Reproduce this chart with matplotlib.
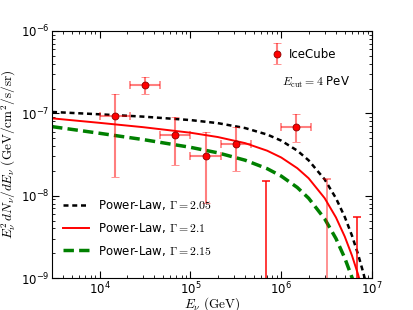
import numpy as np
import matplotlib
matplotlib.use('Agg')
import matplotlib.pyplot as plt
from matplotlib.legend_handler import HandlerErrorbar

plt.rcParams['mathtext.fontset'] = 'cm'
plt.rcParams['font.family'] = ['DejaVu Sans']

# IceCube points (GeV, GeV/cm2/s/sr)
E_data = [1.47e4, 3.16e4, 6.8e4, 1.47e5, 3.16e5, 1.47e6]
flux_data = [9.2e-8, 2.19e-7, 5.46e-8, 3.03e-8, 4.2e-8, 6.8e-8]
flux_hi = [1.7e-7, 2.8e-7, 9.1e-8, 5.9e-8, 6.9e-8, 9.7e-8]
flux_lo = [1.7e-8, 1.7e-7, 2.35e-8, 8.1e-9, 2.0e-8, 4.45e-8]
E_lo = [1.0e4, 2.15e4, 4.6e4, 1.0e5, 2.15e5, 1.0e6]
E_hi = [2.15e4, 4.6e4, 1.0e5, 2.15e5, 4.6e5, 2.15e6]

# bins with only an upper edge
E_ul = [6.8e5, 3.16e6, 6.8e6]
flux_ul = [1.5e-8, 1.6e-8, 5.5e-9]
ul_alpha = [0.9, 0.5, 0.9]

# model curves
E_model = [3e3, 1e4, 3e4, 1e5, 2e5, 4e5, 7e5, 1e6, 1.5e6, 2e6, 3e6,
           4e6, 5e6, 6e6, 7e6, 8e6, 9e6]
flux_205 = [1.04e-7, 9.74e-8, 9.13e-8, 8.29e-8, 7.61e-8, 6.63e-8, 5.53e-8,
            4.66e-8, 3.53e-8, 2.69e-8, 1.58e-8, 9.33e-9, 5.53e-9, 3.28e-9,
            1.95e-9, 1.16e-9, 6.9e-10]
flux_21 = [8.7e-8, 7.67e-8, 6.80e-8, 5.82e-8, 5.16e-8, 4.35e-8, 3.52e-8,
           2.91e-8, 2.16e-8, 1.63e-8, 9.36e-9, 5.45e-9, 3.19e-9, 1.88e-9,
           1.11e-9, 6.5e-10, 3.9e-10]
flux_215 = [6.9e-8, 5.73e-8, 4.81e-8, 3.87e-8, 3.32e-8, 2.70e-8, 2.13e-8,
            1.73e-8, 1.26e-8, 9.33e-9, 5.26e-9, 3.02e-9, 1.75e-9, 1.02e-9,
            6.0e-10, 3.5e-10, 2.1e-10]

fig = plt.figure(figsize=(4.13, 3.10), dpi=100)
ax = fig.add_axes([0.126, 0.103, 0.775, 0.797])

l1, = ax.plot(E_model, flux_205, color='black', lw=1.8, ls=(0, (2, 1.5)),
              label=r'Power-Law, $\Gamma = 2.05$')
l2, = ax.plot(E_model, flux_21, color='red', lw=1.4,
              label=r'Power-Law, $\Gamma = 2.1$')
l3, = ax.plot(E_model, flux_215, color='green', lw=2.5, ls=(0, (3, 1.5)),
              label=r'Power-Law, $\Gamma = 2.15$')

E = np.array(E_data)
f = np.array(flux_data)
yerr = [f - np.array(flux_lo), np.array(flux_hi) - f]
xerr = [E - np.array(E_lo), np.array(E_hi) - E]

ax.errorbar(E, f, xerr=xerr, fmt='none', ecolor='red', alpha=0.5,
            elinewidth=1.5, capsize=3, capthick=1.2)
ice = ax.errorbar(E, f, yerr=yerr, fmt='o', color='red', mec='darkred',
                  ms=5, mew=0.6, ecolor=(1, 0, 0, 0.5), elinewidth=1.5,
                  capsize=3, capthick=1.2, label='IceCube')

for e, top, a in zip(E_ul, flux_ul, ul_alpha):
    ax.errorbar([e], [1e-11], yerr=[[0], [top - 1e-11]], fmt='none',
                ecolor='red', alpha=a, elinewidth=1.2, capsize=3,
                capthick=1.2)

ax.set_xscale('log')
ax.set_yscale('log')
ax.set_xlim(3e3, 1e7)
ax.set_ylim(1e-9, 1e-6)

ax.tick_params(which='both', direction='in', top=True, right=True,
               labelsize=8.5, pad=2)
ax.tick_params(which='major', length=5)
ax.tick_params(which='minor', length=2.5)

ax.set_xlabel(r'$E_\nu\ (\mathrm{GeV})$', fontsize=9.5, labelpad=-1.5)
ax.set_ylabel(r'$E_\nu^2\,dN_\nu/dE_\nu\ (\mathrm{GeV/cm^2/s/sr})$',
              fontsize=9.5, labelpad=2)

leg1 = ax.legend(handles=[l1, l2, l3], loc='lower left', frameon=False,
                 fontsize=8.5, handlelength=2.2, labelspacing=0.75,
                 bbox_to_anchor=(0.0, 0.04))
ax.add_artist(leg1)
ax.legend(handles=[ice], loc='upper right', frameon=False, fontsize=8.5,
          handlelength=1.0, handletextpad=0.5,
          handler_map={type(ice): HandlerErrorbar(yerr_size=0.9)},
          bbox_to_anchor=(0.92, 0.975))

ax.text(0.72, 0.79, r'$E_{\rm cut} = 4$ PeV', transform=ax.transAxes,
        fontsize=8.5, ha='left', va='center')

fig.savefig('out.png', dpi=100)
